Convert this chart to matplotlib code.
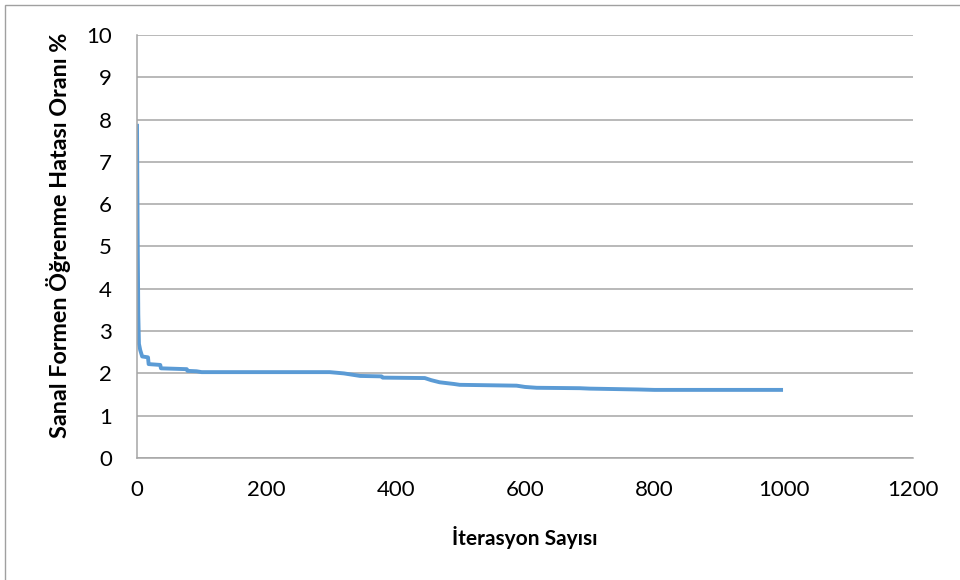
import matplotlib.pyplot as plt
from matplotlib.patches import Rectangle

plt.rcParams['font.family'] = ['Lato', 'DejaVu Sans']

# iteration / error rate (%)
iterations = [0, 1, 2, 3, 5, 8, 17, 18, 36, 37, 77, 78, 92, 100, 200, 298,
              320, 345, 378, 380, 445, 455, 468, 490, 499, 587, 600, 618,
              685, 700, 775, 800, 900, 999]
error_rate = [7.9, 5.3, 3.4, 2.7, 2.55, 2.4, 2.38, 2.22, 2.2, 2.12, 2.1, 2.06,
              2.05, 2.03, 2.03, 2.03, 2.0, 1.94, 1.93, 1.9, 1.89, 1.84, 1.79,
              1.75, 1.73, 1.71, 1.68, 1.66, 1.65, 1.64, 1.62, 1.61, 1.61, 1.61]

x_ticks = [0, 200, 400, 600, 800, 1000, 1200]
y_ticks = list(range(0, 11))

fig = plt.figure(figsize=(9.6, 5.8), dpi=100)
ax = fig.add_axes([137 / 960, 1 - 458 / 580, 776 / 960, 423 / 580])

ax.plot(iterations, error_rate, color='#5B9BD5', lw=2.8, solid_capstyle='butt')

ax.set_xlim(0, 1200)
ax.set_ylim(0, 10)
ax.set_xticks(x_ticks)
ax.set_yticks(y_ticks)
ax.tick_params(length=0, labelsize=16)
ax.tick_params(axis='y', pad=18)
ax.tick_params(axis='x', pad=16)
ax.grid(axis='y', color='#A6A6A6', lw=1.1)
ax.set_axisbelow(True)
for s in ['top', 'right']:
    ax.spines[s].set_visible(False)
for s in ['left', 'bottom']:
    ax.spines[s].set_color('#A6A6A6')
    ax.spines[s].set_linewidth(1.1)

ax.set_xlabel('İterasyon Sayısı', fontsize=15, fontweight='bold')
ax.set_ylabel('Sanal Formen Öğrenme Hatası Oranı %', fontsize=16.8,
              fontweight='bold')
ax.xaxis.set_label_coords(0.5, -0.161)
ax.yaxis.set_label_coords(-0.085, 0.527)

# chart area border (only top and left visible)
fig.patches.append(Rectangle((5 / 960, -0.1), 1.1, 1 - 5 / 580 + 0.1,
                             transform=fig.transFigure, fill=False,
                             edgecolor='#A0A0A0', lw=1))

fig.savefig('out.png', dpi=100)
